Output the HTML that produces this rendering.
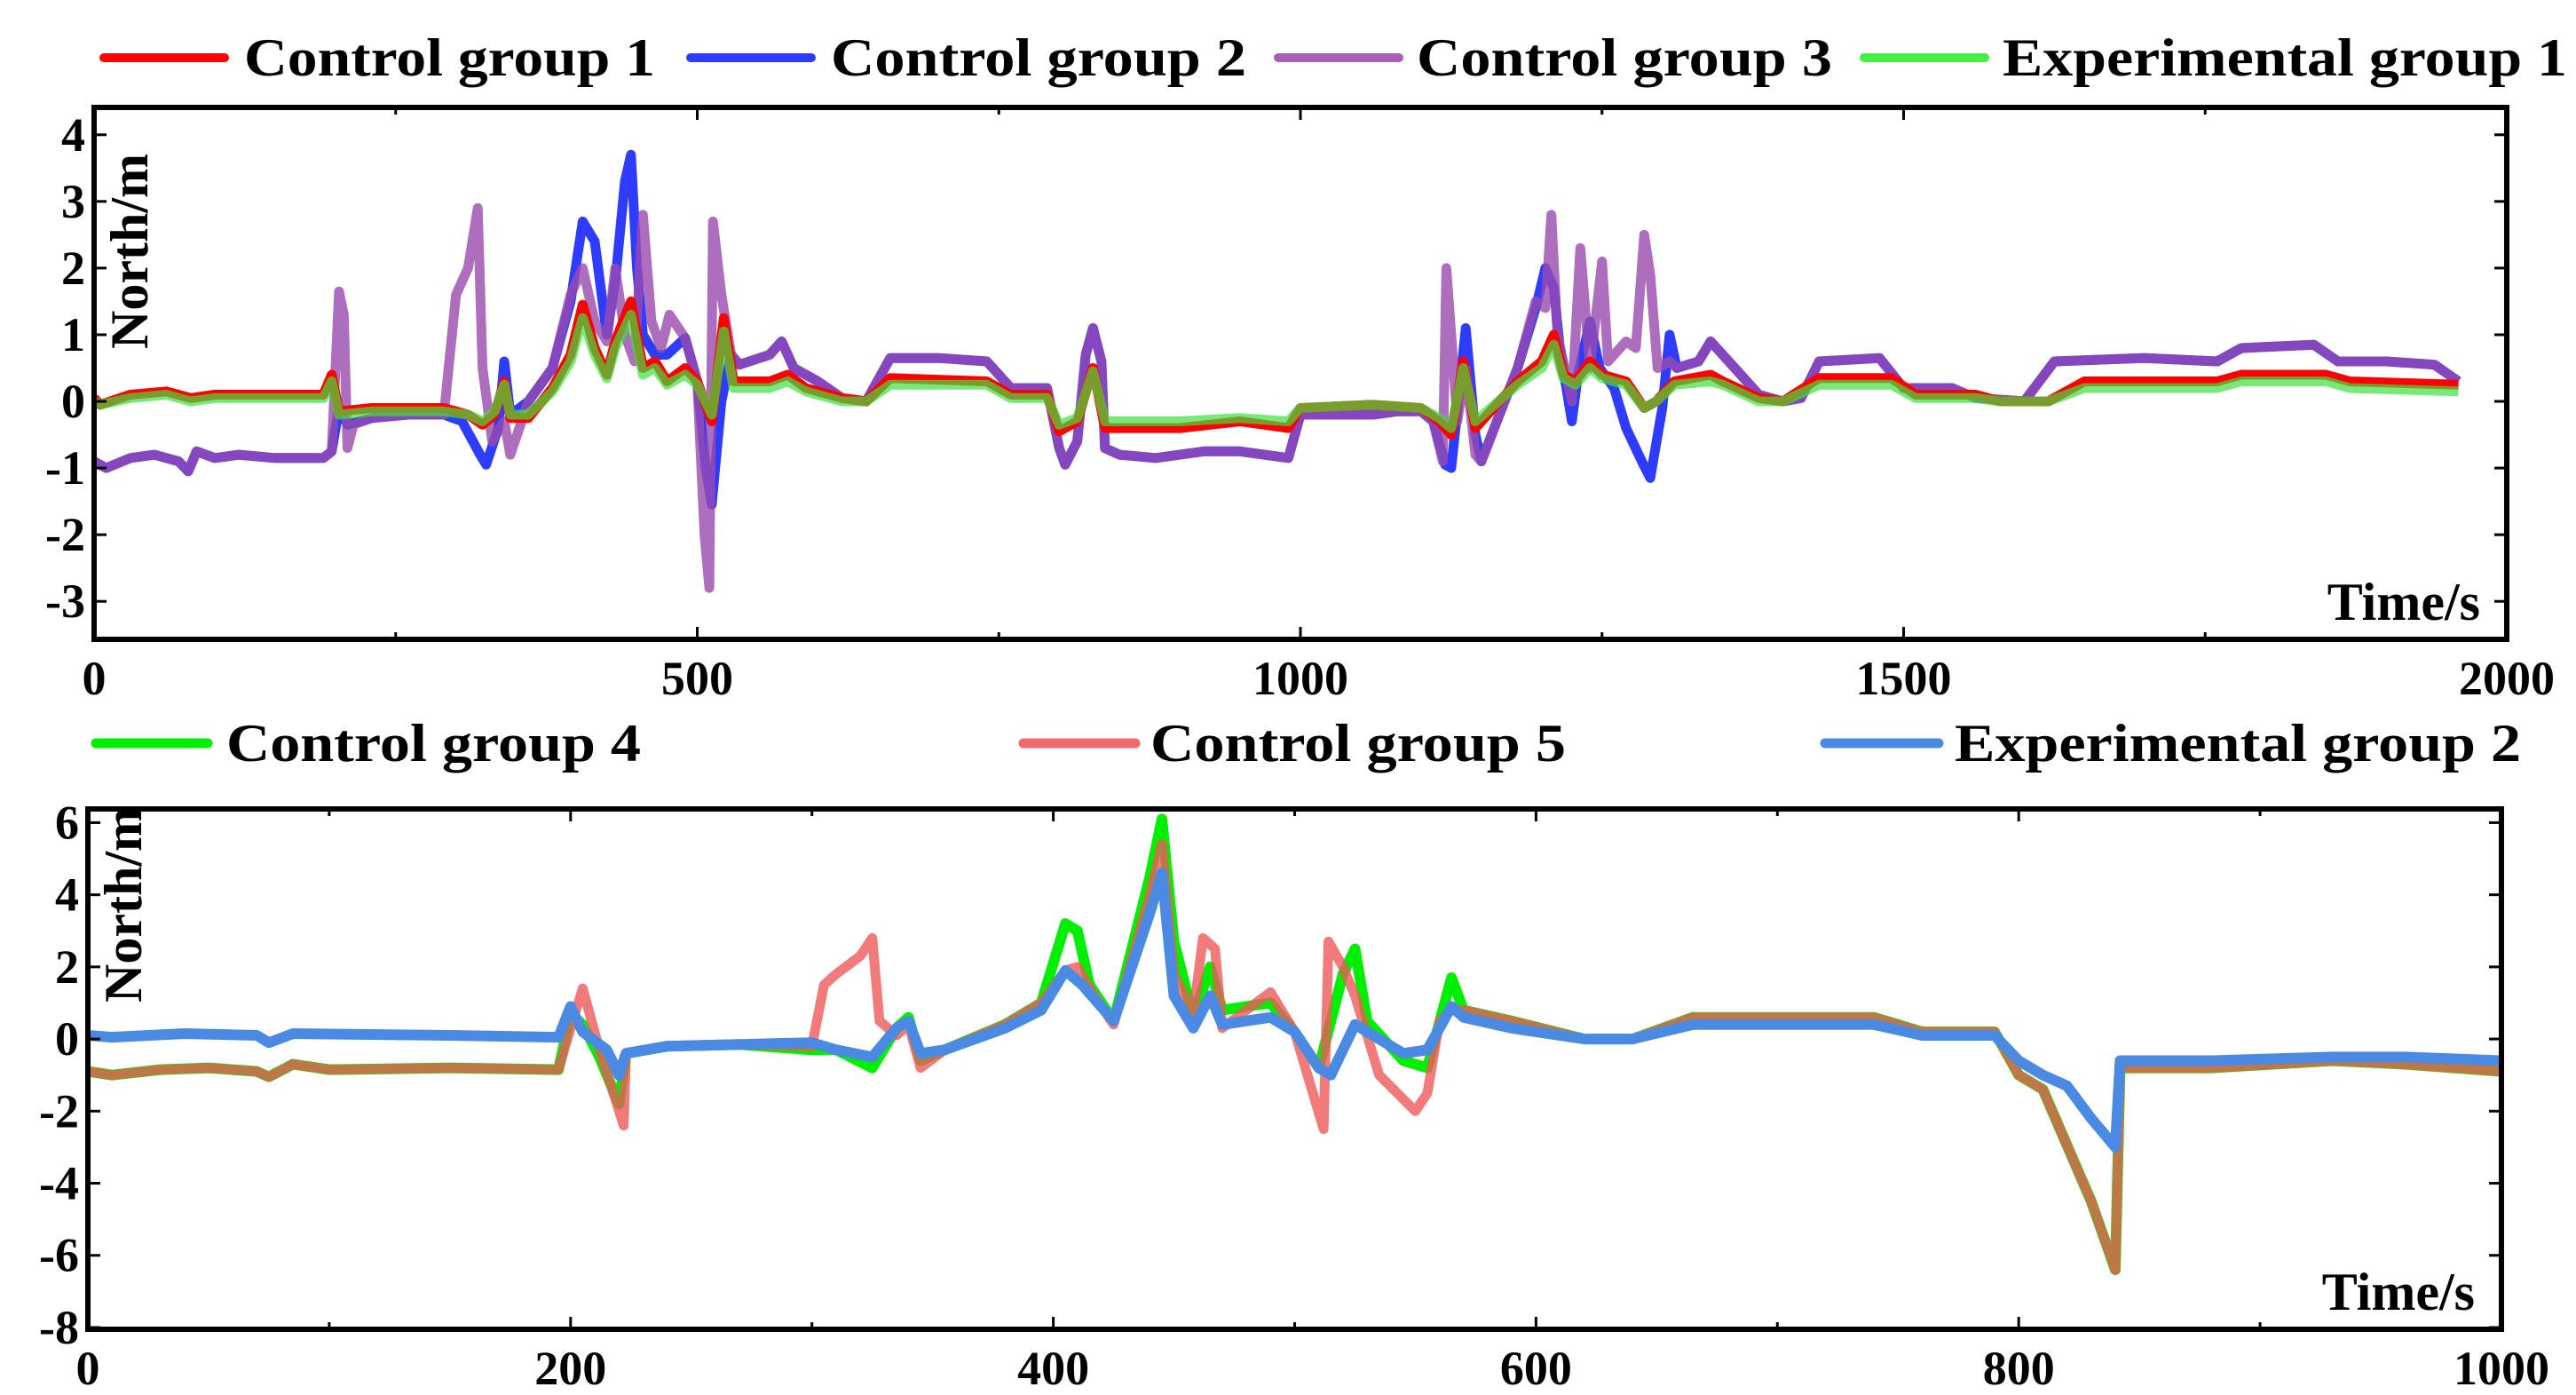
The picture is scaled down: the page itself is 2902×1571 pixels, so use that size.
<!DOCTYPE html>
<html><head><meta charset="utf-8"><style>
html,body{margin:0;padding:0;background:#fff;}
svg{display:block;font-family:"Liberation Serif",serif;font-weight:bold;}
</style></head><body>
<svg id="c" width="2902" height="1571" viewBox="0 0 2902 1571"></svg>
<script>
// ---- top panel data ----
const cg2T=[0,10,30,50,70,78,85,100,120,150,190,197,203,210,230,260,290,305,320,325,335,340,345,360,380,395,405,415,425,432,440,445,450,455,465,475,490,500,507,512,520,528,535,560,570,580,600,620,640,660,700,740,760,790,800,805,815,822,828,835,838,850,880,920,950,990,1000,1030,1060,1080,1100,1110,1120,1125,1132,1137,1145,1150,1165,1180,1195,1203,1210,1215,1225,1230,1240,1248,1260,1270,1283,1290,1300,1306,1312,1330,1340,1350,1380,1400,1415,1430,1480,1500,1540,1560,1600,1625,1700,1760,1780,1840,1860,1900,1940,1960];
const cg2V=[-0.9,-1.0,-0.85,-0.8,-0.9,-1.05,-0.75,-0.85,-0.8,-0.85,-0.85,-0.75,-0.1,-0.35,-0.25,-0.2,-0.2,-0.3,-0.8,-0.95,-0.4,0.6,-0.2,0.0,0.5,1.5,2.7,2.4,1.0,1.8,3.3,3.7,2.0,1.0,0.7,0.7,0.95,0.3,-1.0,-1.55,0.0,0.7,0.55,0.7,0.9,0.5,0.3,0.05,0.0,0.65,0.65,0.6,0.2,0.2,-0.7,-0.95,-0.6,0.7,1.1,0.6,-0.7,-0.8,-0.85,-0.75,-0.75,-0.85,-0.2,-0.2,-0.2,-0.15,-0.15,-0.3,-0.95,-1.0,0.2,1.1,-0.5,-0.9,-0.2,0.5,1.4,2.0,1.7,0.8,-0.3,0.4,1.2,0.5,0.2,-0.4,-0.9,-1.15,-0.1,1.0,0.5,0.6,0.9,0.7,0.1,0.0,0.05,0.6,0.65,0.2,0.2,0.05,0.0,0.6,0.65,0.6,0.8,0.85,0.6,0.6,0.55,0.3];
const cg3T=[0,10,30,50,70,78,85,100,120,150,190,197,203,207,210,215,230,260,290,300,310,318,322,330,340,345,360,380,395,405,415,425,432,440,448,455,462,470,477,490,500,506,510,513,520,528,535,560,570,580,600,620,640,660,700,740,760,790,800,805,815,822,828,835,838,850,880,920,950,990,1000,1030,1060,1080,1100,1110,1118,1121,1125,1130,1137,1145,1150,1165,1180,1195,1203,1208,1213,1225,1232,1240,1250,1255,1270,1278,1285,1290,1296,1306,1312,1330,1340,1350,1380,1400,1415,1430,1480,1500,1540,1560,1600,1625,1700,1760,1780,1840,1860,1900,1940,1960];
const cg3V=[-0.9,-1.0,-0.85,-0.8,-0.9,-1.05,-0.75,-0.85,-0.8,-0.85,-0.85,-0.75,1.65,1.3,-0.7,-0.35,-0.25,-0.2,-0.2,1.6,2.0,2.9,0.5,-0.6,-0.3,-0.8,0.0,0.5,1.6,2.0,1.2,0.9,2.0,1.0,0.6,2.8,1.2,0.8,1.3,0.95,0.3,-2.0,-2.8,2.7,1.6,0.7,0.55,0.7,0.9,0.5,0.3,0.05,0.0,0.65,0.65,0.6,0.2,0.2,-0.7,-0.95,-0.6,0.7,1.1,0.6,-0.7,-0.8,-0.85,-0.75,-0.75,-0.85,-0.2,-0.2,-0.2,-0.15,-0.15,-0.3,-0.9,2.0,1.0,-0.3,0.5,-0.8,-0.9,-0.2,0.5,1.5,1.4,2.8,1.0,0.0,2.3,0.5,2.1,0.6,0.9,0.8,2.5,1.9,0.5,0.6,0.5,0.6,0.9,0.7,0.1,0.0,0.05,0.6,0.65,0.2,0.2,0.05,0.0,0.6,0.65,0.6,0.8,0.85,0.6,0.6,0.55,0.3];
const cg1T=[0,5,30,60,80,100,150,190,197,203,230,290,310,322,332,340,345,360,380,395,405,415,425,432,445,455,465,475,490,500,512,522,530,560,575,590,620,640,660,740,760,790,800,815,828,838,900,950,990,1000,1060,1100,1115,1125,1135,1145,1180,1200,1210,1218,1228,1240,1250,1270,1285,1295,1310,1340,1350,1380,1400,1430,1490,1510,1560,1580,1620,1650,1760,1780,1850,1870,1960];
const cg1V=[0.05,-0.05,0.1,0.15,0.05,0.1,0.1,0.1,0.4,-0.15,-0.1,-0.1,-0.2,-0.35,-0.2,0.3,-0.25,-0.25,0.2,0.7,1.45,0.8,0.4,0.9,1.5,0.5,0.6,0.3,0.5,0.3,-0.3,1.25,0.3,0.3,0.4,0.2,0.05,0.0,0.35,0.3,0.1,0.1,-0.45,-0.3,0.5,-0.4,-0.4,-0.3,-0.4,-0.1,-0.05,-0.1,-0.3,-0.5,0.6,-0.4,0.3,0.6,1.0,0.4,0.3,0.6,0.4,0.3,-0.1,0.0,0.3,0.4,0.3,0.05,0.0,0.35,0.35,0.1,0.1,0.0,0.0,0.3,0.3,0.4,0.4,0.3,0.25];
const eg1V=[0.0,-0.05,0.05,0.1,0.0,0.05,0.05,0.05,0.3,-0.2,-0.15,-0.15,-0.2,-0.3,-0.15,0.25,-0.2,-0.2,0.15,0.6,1.25,0.7,0.35,0.8,1.3,0.4,0.5,0.25,0.4,0.25,-0.2,1.05,0.2,0.2,0.3,0.15,0.0,0.0,0.25,0.25,0.05,0.05,-0.35,-0.25,0.45,-0.3,-0.3,-0.25,-0.3,-0.1,-0.05,-0.1,-0.25,-0.4,0.5,-0.3,0.25,0.5,0.85,0.35,0.25,0.5,0.35,0.25,-0.1,0.0,0.25,0.3,0.25,0.0,0.0,0.25,0.25,0.05,0.05,0.0,0.0,0.2,0.2,0.3,0.3,0.2,0.15];
// ---- bottom panel data ----
const cg4T=[0,10,30,50,70,75,85,100,150,195,200,205,212,220,223,240,270,300,310,325,335,340,345,355,380,395,405,410,415,425,440,445,450,458,465,470,490,500,510,520,525,530,545,555,565,570,590,620,640,665,740,760,790,800,810,830,840,842,880,930,960,1000];
const cg4V=[-0.9,-1.0,-0.85,-0.8,-0.9,-1.05,-0.7,-0.85,-0.8,-0.85,0.7,0.4,-0.5,-1.8,-0.4,-0.2,-0.15,-0.3,-0.3,-0.8,0.3,0.6,-0.6,-0.3,0.4,1.0,3.2,3.0,1.5,0.5,4.5,6.1,2.7,0.6,2.0,0.8,1.0,0.2,-0.8,1.8,2.5,0.5,-0.6,-0.8,1.7,0.8,0.5,0.0,0.0,0.6,0.6,0.2,0.2,-1.0,-1.4,-4.5,-6.4,-0.8,-0.8,-0.6,-0.7,-0.9];
const cg5T=[0,10,30,50,70,75,85,100,150,195,200,205,212,222,223,240,270,300,305,310,320,325,328,335,340,345,355,380,395,405,410,415,425,440,445,450,458,462,467,470,490,500,512,514,520,525,535,550,555,560,565,570,590,620,640,665,740,760,790,800,810,830,840,842,880,930,960,1000];
const cg5V=[-0.9,-1.0,-0.85,-0.8,-0.9,-1.05,-0.7,-0.85,-0.8,-0.85,0.3,1.4,-0.3,-2.4,-0.4,-0.2,-0.15,-0.2,1.5,1.8,2.3,2.8,0.5,0.1,0.4,-0.8,-0.3,0.4,1.0,1.9,2.0,1.4,0.4,4.0,5.4,1.8,0.7,2.8,2.5,0.3,1.3,0.2,-2.5,2.7,2.0,1.2,-1.0,-2.0,-1.5,0.5,0.8,0.8,0.5,0.0,0.0,0.6,0.6,0.2,0.2,-1.0,-1.4,-4.5,-6.4,-0.8,-0.8,-0.6,-0.7,-0.9];
const eg2T=[0,10,40,70,75,85,150,195,200,205,215,220,223,240,270,300,310,325,335,340,345,355,380,395,405,412,425,440,445,450,458,465,470,490,500,510,515,525,535,545,555,565,570,590,620,640,665,740,760,790,800,810,820,830,840,842,880,930,960,1000];
const eg2V=[0.1,0.05,0.15,0.1,-0.1,0.15,0.1,0.05,0.9,0.2,-0.3,-1.0,-0.4,-0.2,-0.15,-0.1,-0.3,-0.5,0.3,0.5,-0.4,-0.3,0.3,0.8,1.9,1.5,0.5,3.5,4.6,1.2,0.3,1.2,0.4,0.6,0.2,-0.8,-1.0,0.4,0.0,-0.4,-0.3,0.9,0.6,0.3,0.0,0.0,0.4,0.4,0.1,0.1,-0.6,-1.0,-1.3,-2.2,-3.0,-0.6,-0.6,-0.5,-0.5,-0.6];
const topXTicks=["0","500","1000","1500","2000"];
const topYTicks=["-3","-2","-1","0","1","2","3","4"];
const botXTicks=["0","200","400","600","800","1000"];
const botYTicks=["-8","-6","-4","-2","0","2","4","6"];

const NS="http://www.w3.org/2000/svg";
const svg=document.getElementById('c');
function mk(tag,attrs,parent){const e=document.createElementNS(NS,tag);for(const k in attrs)e.setAttribute(k,attrs[k]);(parent||svg).appendChild(e);return e;}

function panel(p){
  const g=mk('g',{});
  
  
  const sx=v=>p.x0+(v-p.xmin)/(p.xmax-p.xmin)*(p.x1-p.x0);
  const sy=v=>p.y1-(v-p.ymin)/(p.ymax-p.ymin)*(p.y1-p.y0);
  const clip=mk('clipPath',{id:p.name+'-clip'},g);
  mk('rect',{x:p.x0,y:p.y0,width:p.x1-p.x0,height:p.y1-p.y0},clip);
  const sg=mk('g',{'clip-path':'url(#'+p.name+'-clip)'},g);
  p.series.forEach(s=>{
    let d='';
    s.t.forEach((t,i)=>{d+=(i?'L':'M')+sx(t).toFixed(1)+','+sy(s.v[i]).toFixed(1);});
    const path=mk('path',{d:d,fill:'none',stroke:s.color,'stroke-width':s.w,'stroke-linejoin':'round','stroke-opacity':s.op},sg);
    
    
  });
  const fr=mk('rect',{x:p.x0,y:p.y0,width:p.x1-p.x0,height:p.y1-p.y0,fill:'none',stroke:'#000','stroke-width':6},g);
  
  
  const xs=p.xTicks.map(Number);
  const xstep=xs[1]-xs[0];
  for(let v=p.xmin;v<=p.xmax+1e-9;v+=xstep/2){
    const major=Math.abs((v-p.xmin)%xstep)<1e-9;const L=major?14:8;
    mk('line',{x1:sx(v),x2:sx(v),y1:p.y1,y2:p.y1-L,stroke:'#000','stroke-width':3},g);
    mk('line',{x1:sx(v),x2:sx(v),y1:p.y0,y2:p.y0+L,stroke:'#000','stroke-width':3},g);
  }
  p.xTicks.forEach(lbl=>{
    const t=mk('text',{x:sx(Number(lbl)),y:p.y1+62,'font-size':54,'text-anchor':'middle'},g);
    t.textContent=lbl;
    
    
  });
  p.yTicks.forEach(lbl=>{
    const v=Number(lbl);
    mk('line',{x1:p.x0,x2:p.x0+14,y1:sy(v),y2:sy(v),stroke:'#000','stroke-width':3},g);
    mk('line',{x1:p.x1,x2:p.x1-14,y1:sy(v),y2:sy(v),stroke:'#000','stroke-width':3},g);
    const t=mk('text',{x:p.x0-10,y:sy(v)+18,'font-size':54,'text-anchor':'end'},g);
    t.textContent=lbl;
    
    
  });
  const yt=mk('text',{x:0,y:0,'font-size':60,'text-anchor':'middle',transform:'translate('+(p.x0+60)+','+p.ytitleY+') rotate(-90)'},g);
  yt.textContent='North/m';
  
  
  const xt=mk('text',{x:p.x1-30,y:p.y1-22,'font-size':60,'text-anchor':'end'},g);
  xt.textContent='Time/s';
  
  
  p.legend.forEach(l=>{
    const lg=mk('g',{},g);
    
    
    mk('line',{x1:l.lx0,x2:l.lx1,y1:p.ly,y2:p.ly,stroke:l.color,'stroke-width':l.w,'stroke-linecap':'round'},lg);
    const t=mk('text',{x:l.tx,y:p.ly+20,'font-size':60,textLength:l.tw,lengthAdjust:'spacingAndGlyphs'},lg);
    t.textContent=l.text;
  });
}

panel({name:'top-panel',x0:106,x1:2824,y0:121,y1:720,xmin:0,xmax:2000,ymin:-3.57,ymax:4.41,
  xTicks:topXTicks,yTicks:topYTicks,ytitleY:283,ly:65,
  series:[
    {id:'control-group-2-line',t:cg2T,v:cg2V,color:'#2E3CFF',w:11,op:1},
    {id:'control-group-3-line',t:cg3T,v:cg3V,color:'#9A4AAE',w:11,op:0.8},
    {id:'control-group-1-line',t:cg1T,v:cg1V,color:'#FF0000',w:11,op:1},
    {id:'experimental-group-1-line',t:cg1T,v:eg1V,color:'#3FE03F',w:11,op:0.7}],
  legend:[
    {lx0:117,lx1:253,tx:275,tw:463,color:'#FF0000',w:10,text:'Control group 1'},
    {lx0:778,lx1:914,tx:936,tw:468,color:'#2E3CFF',w:10,text:'Control group 2'},
    {lx0:1440,lx1:1576,tx:1596,tw:468,color:'#A85FB5',w:10,text:'Control group 3'},
    {lx0:2100,lx1:2236,tx:2256,tw:636,color:'#44EE44',w:10,text:'Experimental group 1'}]
});
panel({name:'bottom-panel',x0:99,x1:2818,y0:911,y1:1497,xmin:0,xmax:1000,ymin:-8.05,ymax:6.38,
  xTicks:botXTicks,yTicks:botYTicks,ytitleY:1019,ly:837,
  series:[
    {id:'control-group-4-line',t:cg4T,v:cg4V,color:'#00EE00',w:12,op:1},
    {id:'control-group-5-line',t:cg5T,v:cg5V,color:'#EE5A5A',w:11,op:0.8},
    {id:'experimental-group-2-line',t:eg2T,v:eg2V,color:'#4A8AE2',w:12,op:1}],
  legend:[
    {lx0:108,lx1:234,tx:255,tw:467,color:'#00EE00',w:11,text:'Control group 4'},
    {lx0:1153,lx1:1279,tx:1296,tw:468,color:'#F06A6A',w:11,text:'Control group 5'},
    {lx0:2056,lx1:2184,tx:2202,tw:638,color:'#4A8AE2',w:11,text:'Experimental group 2'}]
});
</script>
</body></html>
